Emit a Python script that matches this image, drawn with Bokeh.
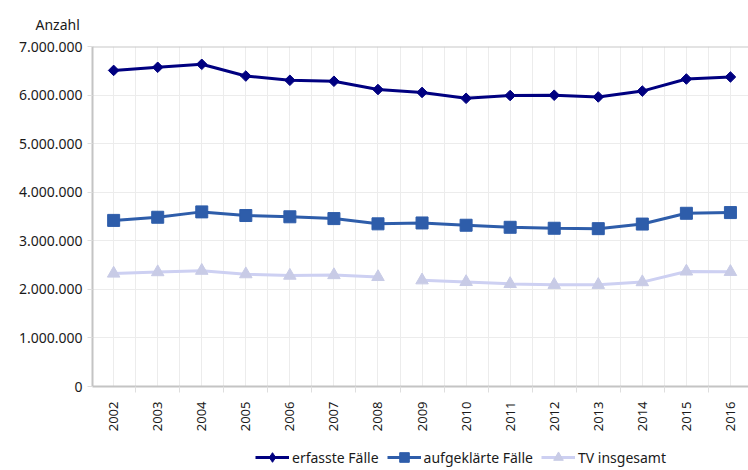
import math
from bokeh.plotting import figure
from bokeh.layouts import column
from bokeh.models import FixedTicker, Span, Title, Legend, LegendItem, Range1d
from bokeh.embed import file_html
from bokeh.resources import INLINE

years = list(range(2002, 2017))
erfasste_faelle = [6507394, 6572135, 6633156, 6391715, 6304223, 6284661, 6114128,
                   6054330, 5933278, 5990679, 5997040, 5961662, 6082064, 6330649, 6372526]
aufgeklaerte_faelle = [3419635, 3484300, 3595000, 3520000, 3494000, 3457000, 3349000,
                       3367000, 3320000, 3278000, 3258000, 3250000, 3344000, 3566000, 3581000]
tv_insgesamt = [2326149, 2355161, 2384268, 2313136, 2283127, 2294883, 2255693,
                2187217, 2152803, 2112843, 2094118, 2094160, 2149504, 2369036, 2360806]
y_ticks = [0, 1000000, 2000000, 3000000, 4000000, 5000000, 6000000, 7000000]
y_tick_labels = ["0", "1.000.000", "2.000.000", "3.000.000", "4.000.000",
                 "5.000.000", "6.000.000", "7.000.000"]
year_labels = [str(y) for y in years]
series_names = ["erfasste Fälle", "aufgeklärte Fälle", "TV insgesamt"]
boundaries = [y - 0.5 for y in years] + [years[-1] + 0.5]

FONT = "Noto Sans"
TXT = "#1a1a1a"
C1 = "#000080"
C2 = "#2e5daa"
C3_LINE = "#cdd0f2"
C3_MARK = "#c8cbe6"
DIAMOND_ANGLE = math.pi / 4
NAN = [float("nan")]

p = figure(width=748, height=434, x_range=Range1d(2001.52, 2016.41),
           y_range=Range1d(0, 7000000), output_backend="svg", toolbar_location=None,
           min_border_left=92, min_border_right=0, min_border_top=45, min_border_bottom=0)
p.outline_line_color = None
p.background_fill_color = "white"
p.border_fill_color = "white"

# grids
p.xgrid.ticker = FixedTicker(ticks=years, minor_ticks=boundaries)
p.xgrid.grid_line_color = "#ececec"
p.xgrid.minor_grid_line_color = "#ececec"
p.ygrid.ticker = FixedTicker(ticks=y_ticks)
p.ygrid.grid_line_color = "#ececec"

p.add_layout(Span(location=7000000, dimension="width", line_color="#c8c8c8", line_width=2))

# x axis
xa = p.xaxis[0]
xa.ticker = FixedTicker(ticks=years, minor_ticks=boundaries)
xa.major_label_overrides = {y: s for y, s in zip(years, year_labels)}
xa.major_label_orientation = math.pi / 2
xa.major_tick_line_color = None
xa.major_tick_out = 0
xa.major_tick_in = 0
xa.minor_tick_out = 6
xa.minor_tick_in = 0
xa.minor_tick_line_color = "#dedede"
xa.axis_line_color = "#c4c4c4"
xa.axis_line_width = 2
xa.major_label_standoff = 9
xa.major_label_text_font = FONT
xa.major_label_text_font_size = "13px"
xa.major_label_text_color = TXT

# y axis
ya = p.yaxis[0]
ya.ticker = FixedTicker(ticks=y_ticks)
ya.major_label_overrides = {t: s for t, s in zip(y_ticks, y_tick_labels)}
ya.major_tick_out = 5
ya.major_tick_in = 0
ya.major_tick_line_color = "#dedede"
ya.minor_tick_line_color = None
ya.axis_line_color = "#c4c4c4"
ya.axis_line_width = 2
ya.major_label_standoff = 5
ya.major_label_text_font = FONT
ya.major_label_text_font_size = "14px"
ya.major_label_text_color = TXT

p.add_layout(Title(text="Anzahl", align="left", offset=-57, text_font=FONT,
                   text_font_size="14px", text_font_style="normal", text_color=TXT,
                   standoff=25), "above")

# series 3 (with gap between 2008 and 2009)
p.line(years[:7], tv_insgesamt[:7], line_color=C3_LINE, line_width=3)
p.line(years[7:], tv_insgesamt[7:], line_color=C3_LINE, line_width=3)
p.scatter(years, tv_insgesamt, marker="triangle", size=12.5, fill_color=C3_MARK,
          line_color=C3_MARK)

p.line(years, aufgeklaerte_faelle, line_color=C2, line_width=3)
p.scatter(years, aufgeklaerte_faelle, marker="square", size=12, fill_color=C2,
          line_color=C2)

p.line(years, erfasste_faelle, line_color=C1, line_width=3)
p.scatter(years, erfasste_faelle, marker="square", angle=DIAMOND_ANGLE, size=7.5,
          fill_color=C1, line_color=C1)

# legend strip below the chart (its frame is aligned with the chart frame)
q = figure(width=748, height=35, x_range=Range1d(0, 1), y_range=Range1d(0, 1),
           output_backend="svg", toolbar_location=None,
           x_axis_location=None, y_axis_location=None,
           min_border_left=0, min_border_right=0, min_border_top=0, min_border_bottom=0)
q.outline_line_color = None
q.grid.visible = False
q.background_fill_color = "white"
q.border_fill_color = "white"

# legend-only renderers (no visible data points)
ql1 = q.line(NAN, NAN, line_color=C1, line_width=3)
qs1 = q.scatter(NAN, NAN, marker="diamond", fill_color=C1, line_color=C1)
ql2 = q.line(NAN, NAN, line_color=C2, line_width=3)
qs2 = q.scatter(NAN, NAN, marker="square", fill_color=C2, line_color=C2)
ql3 = q.line(NAN, NAN, line_color=C3_LINE, line_width=3)
qs3 = q.scatter(NAN, NAN, marker="triangle", fill_color=C3_MARK, line_color=C3_MARK)

legend = Legend(items=[
    LegendItem(label=series_names[0], renderers=[ql1, qs1]),
    LegendItem(label=series_names[1], renderers=[ql2, qs2]),
    LegendItem(label=series_names[2], renderers=[ql3, qs3]),
], orientation="horizontal", location=(163, 0), padding=0, margin=0, spacing=8,
    glyph_width=34, glyph_height=24, label_height=22, label_standoff=3,
    border_line_color=None, background_fill_alpha=0,
    label_text_font=FONT, label_text_font_size="14px", label_text_color=TXT)
q.add_layout(legend, "center")

layout = column(p, q, spacing=0)
open("out.html", "w").write(file_html(layout, INLINE))
